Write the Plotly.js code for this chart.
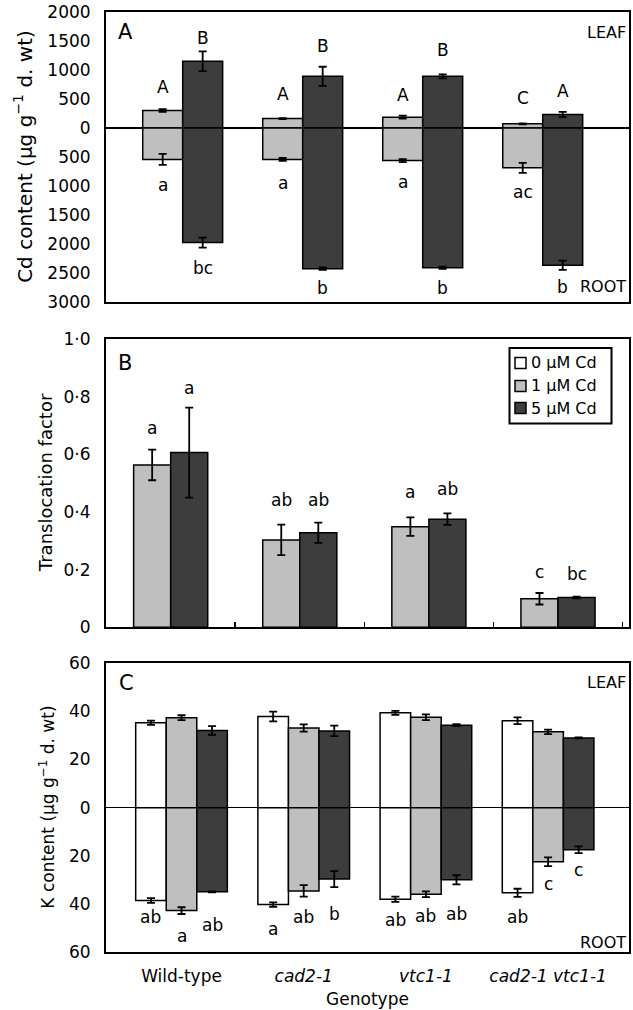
<!DOCTYPE html>
<html><head><meta charset="utf-8">
<script src="https://cdn.plot.ly/plotly-3.0.1.min.js"></script>
<style>html,body{margin:0;padding:0;background:#fff}#chart{width:633px;height:1010px}</style>
</head><body><div id="chart"></div>
<script>
// ---------- data ----------
const genotypes = ['Wild-type', 'cad2-1', 'vtc1-1', 'cad2-1 vtc1-1'];
const genotypeTickText = ['Wild-type', '<i>cad2-1</i>', '<i>vtc1-1</i>', '<i>cad2-1 vtc1-1</i>'];
const seriesNames = ['0 μM Cd', '1 μM Cd', '5 μM Cd'];
const yTitles = ['Cd content (μg g<sup>−1</sup> d. wt)', 'Translocation factor', 'K content (μg g<sup>−1</sup> d. wt)'];

// Panel A: Cd content (µg g-1 d. wt), leaf (up) and root (down)
const cdLeaf1 = [300, 160, 185, 70];
const cdLeaf1Err = [25, 10, 25, 8];
const cdLeaf5 = [1150, 890, 890, 230];
const cdLeaf5Err = [170, 165, 35, 45];
const cdRoot1 = [545, 545, 565, 690];
const cdRoot1Err = [95, 25, 25, 85];
const cdRoot5 = [1980, 2430, 2415, 2370];
const cdRoot5Err = [85, 20, 20, 80];
const cdLeafLetters1 = ['A', 'A', 'A', 'C'];
const cdLeafLetters5 = ['B', 'B', 'B', 'A'];
const cdRootLetters1 = ['a', 'a', 'a', 'ac'];
const cdRootLetters5 = ['bc', 'b', 'b', 'b'];
const cdTickVals = [2000, 1500, 1000, 500, 0, -500, -1000, -1500, -2000, -2500, -3000];
const cdTickText = ['2000', '1500', '1000', '500', '0', '500', '1000', '1500', '2000', '2500', '3000'];

// Panel B: translocation factor
const tf1 = [0.563, 0.303, 0.349, 0.099];
const tf1Err = [0.053, 0.053, 0.032, 0.02];
const tf5 = [0.606, 0.328, 0.375, 0.103];
const tf5Err = [0.156, 0.035, 0.02, 0.003];
const tfLetters1 = ['a', 'ab', 'a', 'c'];
const tfLetters5 = ['a', 'ab', 'ab', 'bc'];
const tfTickVals = [0, 0.2, 0.4, 0.6, 0.8, 1.0];
const tfTickText = ['0', '0·2', '0·4', '0·6', '0·8', '1·0'];

// Panel C: K content, leaf (up) and root (down)
const kLeaf0 = [35.3, 37.9, 39.4, 36.1];
const kLeaf0Err = [0.9, 2.0, 0.8, 1.4];
const kLeaf1 = [37.4, 33.1, 37.6, 31.5];
const kLeaf1Err = [1.0, 1.5, 1.2, 0.9];
const kLeaf5 = [32.1, 31.9, 34.3, 29.0];
const kLeaf5Err = [1.8, 2.2, 0.4, 0.2];
const kRoot0 = [38.6, 40.3, 38.1, 35.4];
const kRoot0Err = [1.0, 0.9, 1.1, 1.7];
const kRoot1 = [42.8, 34.6, 36.0, 22.5];
const kRoot1Err = [1.4, 2.4, 1.2, 1.8];
const kRoot5 = [35.0, 29.7, 30.0, 17.5];
const kRoot5Err = [0.2, 3.3, 1.9, 1.4];
const kRootLetters0 = ['ab', 'a', 'ab', 'ab'];
const kRootLetters1 = ['a', 'ab', 'ab', 'c'];
const kRootLetters5 = ['ab', 'b', 'ab', 'c'];
const kTickVals = [60, 40, 20, 0, -20, -40, -60];
const kTickText = ['60', '40', '20', '0', '20', '40', '60'];

// ---------- label placement (data units) ----------
const cdLeafLabelY1 = [700, 580, 575, 517];
const cdLeafLabelY5 = [1552, 1408, 1351, 632];
const cdRootLabelY1 = [-994, -948, -937, -1109];
const cdRootLabelY5 = [-2414, -2770, -2759, -2741];
const tfLabelY1 = [0.692, 0.442, 0.469, 0.192];
const tfLabelY5 = [0.829, 0.442, 0.478, 0.185];
const kLabelY0 = [-45.6, -50.4, -46.9, -45.6];
const kLabelY1 = [-53.2, -45.6, -45.1, -31.7];
const kLabelY5 = [-48.6, -44.2, -44.2, -26.1];

// ---------- style ----------
const FONT = 'DejaVu Sans';
const COL0 = '#ffffff', COL1 = '#bfbfbf', COL5 = '#3d3d3d';
const L = 106, R = 629, T = 12, B = 952;
const px2x = p => (p - L) / (R - L);
const py2y = p => (B - p) / (B - T);
const AW = 0.333, BW = 0.287, CW = 0.25;
const neg = a => a.map(v => -v);

function bars(name, y, err, color, xa, ya, offset, width) {
  return {
    type: 'bar', name: name, x: genotypes, y: y, xaxis: xa, yaxis: ya,
    offset: offset, width: width,
    marker: {color: color, line: {color: '#000', width: 1.5}},
    error_y: {type: 'data', array: err, visible: true, color: '#000', thickness: 1.8, width: 4},
    showlegend: false, hoverinfo: 'skip'
  };
}

const traces = [
  bars(seriesNames[1], cdLeaf1, cdLeaf1Err, COL1, 'x', 'y', -AW, AW),
  bars(seriesNames[1], neg(cdRoot1), cdRoot1Err, COL1, 'x', 'y', -AW, AW),
  bars(seriesNames[2], cdLeaf5, cdLeaf5Err, COL5, 'x', 'y', 0, AW),
  bars(seriesNames[2], neg(cdRoot5), cdRoot5Err, COL5, 'x', 'y', 0, AW),
  bars(seriesNames[1], tf1, tf1Err, COL1, 'x2', 'y2', -BW, BW),
  bars(seriesNames[2], tf5, tf5Err, COL5, 'x2', 'y2', 0, BW),
  bars(seriesNames[0], kLeaf0, kLeaf0Err, COL0, 'x3', 'y3', -1.5 * CW, CW),
  bars(seriesNames[0], neg(kRoot0), kRoot0Err, COL0, 'x3', 'y3', -1.5 * CW, CW),
  bars(seriesNames[1], kLeaf1, kLeaf1Err, COL1, 'x3', 'y3', -0.5 * CW, CW),
  bars(seriesNames[1], neg(kRoot1), kRoot1Err, COL1, 'x3', 'y3', -0.5 * CW, CW),
  bars(seriesNames[2], kLeaf5, kLeaf5Err, COL5, 'x3', 'y3', 0.5 * CW, CW),
  bars(seriesNames[2], neg(kRoot5), kRoot5Err, COL5, 'x3', 'y3', 0.5 * CW, CW)
];

function letters(texts, ys, xa, ya, dx) {
  return texts.map((t, i) => ({
    text: t, x: i + dx, y: ys[i], xref: xa, yref: ya, showarrow: false,
    font: {size: 17}, xanchor: 'center', yanchor: 'middle'
  }));
}
function corner(text, xa, ya, x, y, xanchor, yshift, xshift, size) {
  return {text: text, xref: xa + ' domain', yref: ya + ' domain', x: x, y: y,
    xanchor: xanchor, yanchor: 'middle', xshift: xshift, yshift: yshift,
    showarrow: false, font: {size: size}};
}
function yTitle(text, ya, centerPx, size) {
  return {text: text, xref: 'paper', yref: ya + ' domain', x: px2x(centerPx), y: 0.5,
    xanchor: 'center', yanchor: 'middle', textangle: -90, showarrow: false,
    font: {size: size}};
}

const annotations = [].concat(
  letters(cdLeafLetters1, cdLeafLabelY1, 'x', 'y', -AW / 2),
  letters(cdLeafLetters5, cdLeafLabelY5, 'x', 'y', AW / 2),
  letters(cdRootLetters1, cdRootLabelY1, 'x', 'y', -AW / 2),
  letters(cdRootLetters5, cdRootLabelY5, 'x', 'y', AW / 2),
  letters(tfLetters1, tfLabelY1, 'x2', 'y2', -BW / 2),
  letters(tfLetters5, tfLabelY5, 'x2', 'y2', BW / 2),
  letters(kRootLetters0, kLabelY0, 'x3', 'y3', -CW),
  letters(kRootLetters1, kLabelY1, 'x3', 'y3', 0),
  letters(kRootLetters5, kLabelY5, 'x3', 'y3', CW),
  [
    yTitle(yTitles[0], 'y', 23, 20),
    yTitle(yTitles[1], 'y2', 45, 18),
    yTitle(yTitles[2], 'y3', 47, 17),
    corner('A', 'x', 'y', 0, 1, 'left', -20, 10, 21),
    corner('B', 'x2', 'y2', 0, 1, 'left', -24, 10, 21),
    corner('C', 'x3', 'y3', 0, 1, 'left', -20, 11, 21),
    corner('LEAF', 'x', 'y', 1, 1, 'right', -20, -1, 16),
    corner('ROOT', 'x', 'y', 1, 0, 'right', 15, -1, 16),
    corner('LEAF', 'x3', 'y3', 1, 1, 'right', -19, -1, 16),
    corner('ROOT', 'x3', 'y3', 1, 0, 'right', 10, -1, 16)
  ]
);

// custom legend (panel B)
const legendRows = [363, 386, 408];
const legendCols = [COL0, COL1, COL5];
const shapes = [{
  type: 'rect', xref: 'paper', yref: 'paper',
  x0: px2x(509.5), x1: px2x(611.5), y0: py2y(423.5), y1: py2y(348),
  line: {color: '#000', width: 2}, fillcolor: '#fff'
}];
legendRows.forEach((ry, i) => {
  shapes.push({type: 'rect', xref: 'paper', yref: 'paper',
    x0: px2x(515), x1: px2x(526), y0: py2y(ry + 5.5), y1: py2y(ry - 5.5),
    line: {color: '#000', width: 1.5}, fillcolor: legendCols[i]});
  annotations.push({text: seriesNames[i], xref: 'paper', yref: 'paper',
    x: px2x(529), y: py2y(ry), xanchor: 'left', yanchor: 'middle',
    showarrow: false, font: {size: 16}});
});

const frame = {showline: true, mirror: true, linecolor: '#000', linewidth: 2,
  showgrid: false, zeroline: false, fixedrange: true};
const tickfont = {size: 17, family: FONT, color: '#000'};

const layout = {
  width: 633, height: 1010,
  margin: {l: L, r: 633 - R, t: T, b: 1010 - B, pad: 0},
  paper_bgcolor: '#fff', plot_bgcolor: '#fff',
  font: {family: FONT, color: '#000', size: 17},
  barmode: 'overlay', showlegend: false,
  xaxis: Object.assign({}, frame, {type: 'category', anchor: 'y', domain: [0, 1],
    range: [-0.639, 3.719], ticks: '', showticklabels: false}),
  yaxis: Object.assign({}, frame, {anchor: 'x', domain: [py2y(301.7), 1],
    range: [-3000, 2000], tickvals: cdTickVals, ticktext: cdTickText, ticks: '',
    tickfont: tickfont, ticklabelstandoff: 10,
    zeroline: true, zerolinecolor: '#000', zerolinewidth: 2}),
  xaxis2: Object.assign({}, frame, {type: 'category', anchor: 'y2', domain: [0, 1],
    range: [-0.501, 3.55], tickson: 'boundaries', ticks: 'inside', ticklen: 5,
    tickwidth: 1.5, tickcolor: '#000', showticklabels: false}),
  yaxis2: Object.assign({}, frame, {anchor: 'x2', domain: [py2y(627.3), py2y(339)],
    range: [0, 1.0], tickvals: tfTickVals, ticktext: tfTickText, ticks: '',
    tickfont: tickfont, ticklabelstandoff: 10}),
  xaxis3: Object.assign({}, frame, {type: 'category', anchor: 'y3', domain: [0, 1],
    range: [-0.618, 3.662], ticks: '', tickvals: genotypes, ticktext: genotypeTickText,
    tickfont: tickfont, ticklabelstandoff: 8,
    title: {text: 'Genotype', font: {size: 17}, standoff: 8}}),
  yaxis3: Object.assign({}, frame, {anchor: 'x3', domain: [0, py2y(663.3)],
    range: [-60, 60], tickvals: kTickVals, ticktext: kTickText, ticks: '',
    tickfont: tickfont, ticklabelstandoff: 10,
    zeroline: true, zerolinecolor: '#000', zerolinewidth: 1.5}),
  annotations: annotations,
  shapes: shapes
};

Plotly.newPlot('chart', traces, layout, {staticPlot: true, displayModeBar: false});
</script>
</body></html>
